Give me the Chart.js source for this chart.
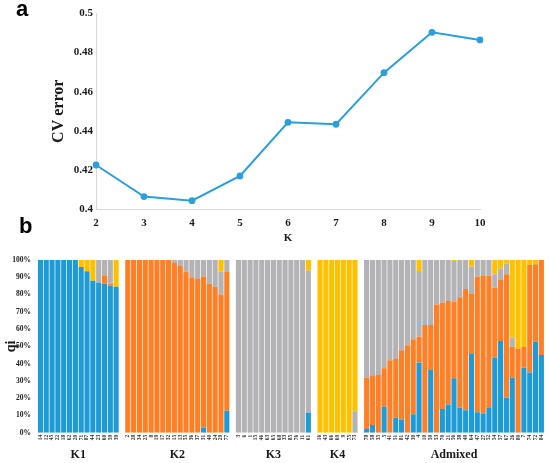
<!DOCTYPE html>
<html><head><meta charset="utf-8">
<script src="https://cdn.jsdelivr.net/npm/chart.js@4.4.1/dist/chart.umd.min.js"></script>
<style>
html,body{margin:0;padding:0;background:#fff;width:550px;height:463px;overflow:hidden;position:relative}
#a,#b{position:absolute;left:0}
#a{top:0}
#b{top:248px}
.lt{position:absolute;font:bold 22px/1 "Liberation Sans",Arial,sans-serif;color:#000}
</style></head><body>
<canvas id="a" width="550" height="248"></canvas>
<canvas id="b" width="550" height="215"></canvas>
<div class="lt" style="left:16px;top:-2px">a</div>
<div class="lt" style="left:19px;top:215px">b</div>
<script>
// ---- panel a data ----
const kValues = ['2','3','4','5','6','7','8','9','10'];
const cvError = [0.4226,0.4065,0.4044,0.417,0.4444,0.4434,0.4697,0.4903,0.4864];

// ---- panel b data ----
const groupNames = ['K1','K2','K3','K4','Admixed'];
const k1Labels = ['14','12','45','22','18','62','20','71','87','44','23','60','59','39'];
const k2Labels = ['2','28','34','25','8','19','17','32','15','13','55','36','37','31','40','24','29','77'];
const k3Labels = ['3','6','1','15','46','63','65','68','33','85','76','11','61'];
const k4Labels = ['16','43','66','69','9','75','73'];
const admLabels = ['78','58','35','5','41','51','81','42','30','4','10','50','53','70','21','56','38','49','64','47','27','52','54','57','67','26','80','7','74','72','84'];

const blueQ = [100,100,100,100,100,100,100,96,93.5,88,86.8,86.3,85.1,84.5,
  0,0,0,0,0,0,0,0,0,0,0,0,0,3,0,0,0,12.7,
  0,0,0,0,0,0,0,0,0,0,0,0,11.6,
  0,0,0,0,0,0,0,
  2.2,4.4,0,15,0,8.7,7.7,0,10.7,40.6,0,36.3,0,13.7,16.3,31.5,14.5,13,45.5,11.8,11.1,14.8,43.5,53.1,20.3,32,0,37.6,34.9,52.7,45];
const orangeQ = [0,0,0,0,0,0,0,0,0,0,0,4.8,1.2,0,
  100,100,100,100,100,100,100,100,98.3,96.5,93.2,90,89,87.5,86.3,84.5,80,80.4,
  0,0,0,0,0,0,0,0,0,0,0,0,0,
  0,0,0,0,0,0,0,
  29.8,28.8,33.4,22.3,42,34,40.1,50.7,43.4,14.9,62.3,26,74.3,61.6,60,44.4,63.9,70.2,34.8,78.5,79.7,76.2,40.5,35.3,71.4,17.8,48.8,12,62.2,44.9,55];
const grayQ = [0,0,0,0,0,0,0,0,0,0,13.2,8.9,13.7,0,
  0,0,0,0,0,0,0,0,1.7,3.5,6.8,10,11,9.5,13.7,15.5,13.2,6.9,
  100,100,100,100,100,100,100,100,100,100,100,100,82.2,
  0,0,0,0,0,0,12.4,
  68,66.8,66.6,62.7,58,57.3,52.2,49.3,45.9,38.2,37.7,37.7,25.7,24.7,23.7,23.5,21.6,16.8,15.8,9.7,9.2,9,7.7,6.5,6.2,5.3,0,0,0,0,0];
const yellowQ = [0,0,0,0,0,0,0,4,6.5,12,0,0,0,15.5,
  0,0,0,0,0,0,0,0,0,0,0,0,0,0,0,0,6.8,0,
  0,0,0,0,0,0,0,0,0,0,0,0,6.2,
  100,100,100,100,100,100,87.6,
  0,0,0,0,0,0,0,0,0,6.3,0,0,0,0,0,0.6,0,0,3.9,0,0,0,8.3,5.1,2.1,44.9,51.2,50.4,2.9,2.4,0];
const qiTicks = [0,10,20,30,40,50,60,70,80,90,100];

const SERIF = '"Liberation Serif","Times New Roman",serif';
const TXT = '#1a1a1a';
const BLUE = '#1E9BD7', ORANGE = '#FF7F27', GRAY = '#B3B3B5', YELLOW = '#FFC000';

// ---- panel a ----
new Chart(document.getElementById('a'), {
  type: 'line',
  data: { labels: kValues, datasets: [{
    data: cvError, borderColor: '#2A9FDC', backgroundColor: '#2A9FDC',
    borderWidth: 2, pointRadius: 3.4, pointHoverRadius: 3.4, pointBorderWidth: 0,
    pointBackgroundColor: '#2A9FDC', tension: 0 }] },
  options: {
    responsive: false, animation: false,
    layout: { padding: { left: 0, top: 13.3, right: 70, bottom: 0 } },
    plugins: { legend: { display: false }, tooltip: { enabled: false } },
    scales: {
      x: {
        offset: false,
        grid: { display: false, drawTicks: false },
        border: { display: true, color: '#D9D9D9', width: 1 },
        ticks: { padding: 7, color: TXT, font: { family: SERIF, size: 11, weight: 'bold' } },
        title: { display: true, text: 'K', color: TXT, font: { family: SERIF, size: 11, weight: 'bold' }, padding: { top: 0, bottom: 3.4 } },
        afterFit(s) { s.height = 248 - 209.3; }
      },
      y: {
        min: 0.4, max: 0.5,
        grid: { display: false, drawTicks: false },
        border: { display: true, color: '#D9D9D9', width: 1 },
        ticks: { stepSize: 0.02, padding: 3, color: TXT, font: { family: SERIF, size: 11, weight: 'bold' },
          callback: v => String(+(+v).toFixed(2)) },
        title: { display: true, text: 'CV error', color: TXT, font: { family: SERIF, size: 16, weight: 'bold' }, padding: { top: 49, bottom: 0 } },
        afterFit(s) { s.width = 96; }
      }
    }
  }
});

// ---- panel b ----
const groupLabelSets = [k1Labels, k2Labels, k3Labels, k4Labels, admLabels];
function padGroups(flat) {
  const out = []; let i = 0;
  groupLabelSets.forEach((g, gi) => {
    for (let j = 0; j < g.length; j++) out.push(flat[i++]);
    if (gi < groupLabelSets.length - 1) out.push(null);
  });
  return out;
}
const paddedLabels = [];
groupLabelSets.forEach((g, gi) => { g.forEach(l => paddedLabels.push(l)); if (gi < groupLabelSets.length - 1) paddedLabels.push(''); });

const groupLabelPlugin = {
  id: 'groupLabels',
  afterDraw(chart) {
    const xs = chart.scales.x, ctx = chart.ctx;
    ctx.save();
    ctx.font = 'bold 12px ' + SERIF;
    ctx.fillStyle = TXT; ctx.textAlign = 'center'; ctx.textBaseline = 'middle';
    let idx = 0;
    groupNames.forEach((name, gi) => {
      const n = groupLabelSets[gi].length;
      const x0 = xs.getPixelForValue(idx), x1 = xs.getPixelForValue(idx + n - 1);
      ctx.fillText(name, (x0 + x1) / 2, chart.chartArea.bottom + 22);
      idx += n + 1;
    });
    ctx.restore();
  }
};

new Chart(document.getElementById('b'), {
  type: 'bar',
  data: { labels: paddedLabels, datasets: [
    { data: padGroups(blueQ), backgroundColor: BLUE },
    { data: padGroups(orangeQ), backgroundColor: ORANGE },
    { data: padGroups(grayQ), backgroundColor: GRAY },
    { data: padGroups(yellowQ), backgroundColor: YELLOW }
  ] },
  options: {
    responsive: false, animation: false,
    datasets: { bar: { categoryPercentage: 1, barPercentage: 0.88, borderWidth: 0 } },
    layout: { padding: { left: 0, top: 12, right: 3.5, bottom: 0 } },
    plugins: { legend: { display: false }, tooltip: { enabled: false } },
    scales: {
      x: {
        stacked: true,
        grid: { display: false, drawTicks: false },
        border: { display: false },
        ticks: { autoSkip: false, minRotation: 90, maxRotation: 90, padding: 2, color: '#333',
          font: { family: SERIF, size: 5.5, weight: 'bold' } },
        afterFit(s) { s.height = 215 - 184.7; }
      },
      y: {
        stacked: true, min: 0, max: 100,
        grid: { display: false, drawTicks: false },
        border: { display: false },
        afterBuildTicks(s) { s.ticks = qiTicks.map(v => ({ value: v })); },
        ticks: { padding: 6.5, color: TXT, font: { family: SERIF, size: 7.5, weight: 'bold' }, callback: v => v + '%' },
        title: { display: true, text: 'qi', color: TXT, font: { family: SERIF, size: 14, weight: 'bold' }, padding: { top: 2.6, bottom: 0 } },
        afterFit(s) { s.width = 37.5; }
      }
    }
  },
  plugins: [groupLabelPlugin]
});
</script></body></html>
